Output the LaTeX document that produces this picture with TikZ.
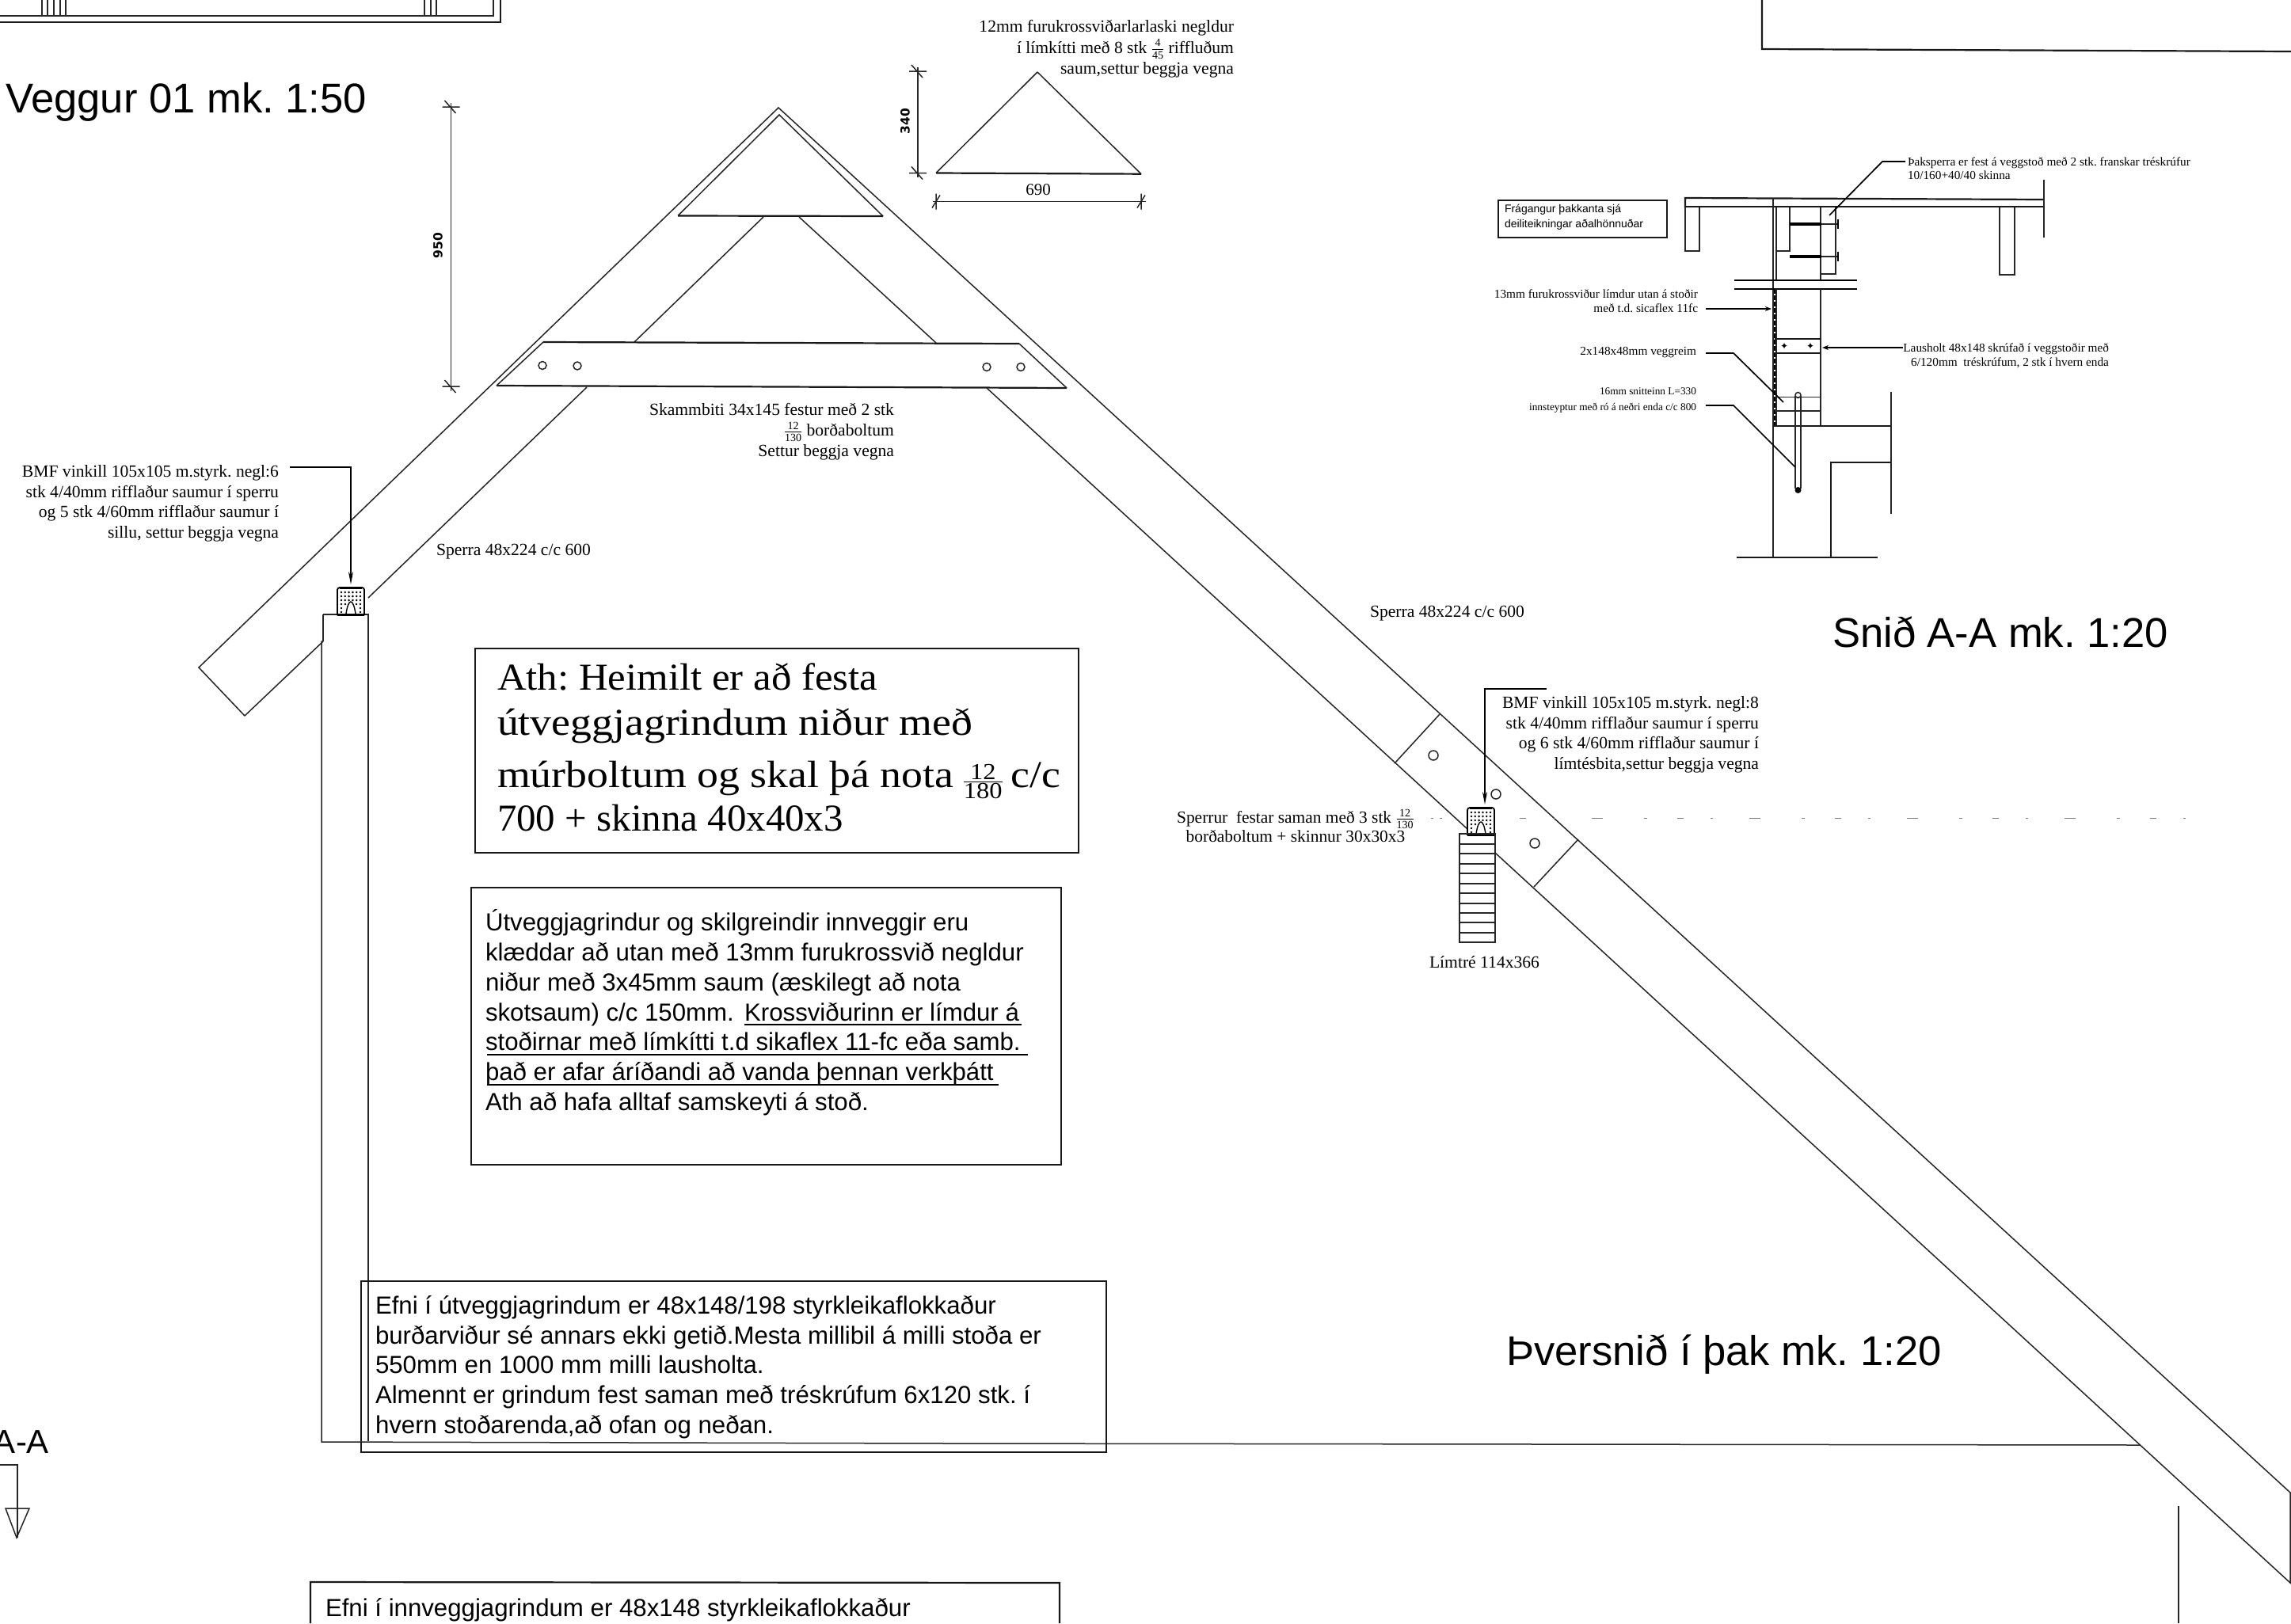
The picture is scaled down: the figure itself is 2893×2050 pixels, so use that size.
\documentclass[tikz,border=0pt]{standalone}
\usepackage{amsmath}
\usepackage{fontspec}
\setmainfont{Liberation Serif}
\setsansfont{Liberation Sans}
\newfontfamily\palat[FakeStretch=1.12]{Liberation Serif}
\newfontfamily\palatA[FakeStretch=1.06]{Liberation Serif}
\newfontfamily\palatB[FakeStretch=1.02]{Liberation Serif}
\newfontfamily\dejav{DejaVu Sans}
\usetikzlibrary{arrows.meta}
\newcommand{\fsz}[2]{\fontsize{#1}{#2}\selectfont\frenchspacing\lineskiplimit=-100pt\lineskip=0pt}
\newcommand{\ft}{\rule{0pt}{1em}}
\newcommand{\vfr}[4]{\ensuremath{\genfrac{}{}{#2}{}{\mbox{\fontsize{#1}{#1}\selectfont #3}}{\mbox{\fontsize{#1}{#1}\selectfont #4}}}}
\newcommand{\vtick}[2]{\draw[thin line] (#1-11,#2)--(#1+11,#2) (#1-8,#2-8)--(#1+6,#2+8);}
\newcommand{\htick}[2]{\draw[thin line] (#1,#2-10)--(#1,#2+10) (#1-5,#2+8)--(#1+5,#2-8);}
\newcommand{\bmficon}[2]{%
\begin{scope}[shift={(#1,#2)}]
\draw[line width=1.8pt,rounded corners=3pt] (0,35)--(0,0)--(34,0)--(34,35);
\draw[line width=3pt] (0,34)--(34,34);
\draw[line width=2.4pt] (3,1)--(31,1);
\foreach \px in {5,9.8,14.6,19.4,24.2,29}{\foreach \py in {6,11,16}{\fill (\px,\py) circle[radius=1.4];}}
\foreach \px/\py in {5/21,10/21,24/21,29/21,5/26,29/26,5/31,29/31}{\fill (\px,\py) circle[radius=1.4];}
\draw[line width=1.4pt] (11,33) .. controls (14,13) and (20,13) .. (23,33);
\end{scope}}
\tikzset{
 x=1pt,y=-1pt,
 thin line/.style={line width=1.5pt,black!85},
 box line/.style={line width=2.2pt,black!90},
 lead/.style={line width=1.7pt,black},
 leadarrow/.style={line width=1.7pt,black,-{Stealth[length=16pt,width=6pt]}},
 txt/.style={inner sep=0pt,outer sep=0pt,text=black},
 times/.style={txt,font=\fsz{21.6}{25.5}},
 arial/.style={txt,font=\sffamily\fsz{31.2}{37.8}},
 title/.style={txt,font=\sffamily\fsz{52.6}{60}},
 smalltimes/.style={txt,font=\fsz{15.3}{18}},
}
\begin{document}
\begin{tikzpicture}
\useasboundingbox (0,0) rectangle (2893,2050);
\fill[white] (0,0) rectangle (2893,2050);

% fragments of neighbouring drawings
\draw[thin line] (0,20)--(623,20)--(623,0);
\draw[box line] (0,28)--(632,28)--(632,0);
\foreach \vx in {53,60,68,76,83,536,544,551}{\draw[thin line] (\vx,0)--(\vx,20);}
\draw[box line] (2225,0)--(2225,62)--(2893,65);

% titles
\node[title,anchor=base west] (t1) at (7,142) {Veggur 01 mk. 1:50};
\node[title,anchor=base west] (t2) at (2314,817) {Snið A-A mk. 1:20};
\node[title,anchor=base west] (t3) at (1902,1724) {Þversnið í þak mk. 1:20};

% main truss
\draw[thin line] (309,904)--(251,843)--(983,136)--(2892,1885)--(2892,1999)--(1888,1077);
\draw[thin line] (309,904)--(408,810);
\draw[thin line] (465,755)--(741,489);
\draw[thin line] (1246,490)--(1853,1047);
\draw[thin line] (856,272.5)--(984,145)--(1115,273);
\draw[box line] (856,272.5)--(1115,273);
\draw[thin line] (964,274)--(801,432);
\draw[thin line] (1009,274)--(1182,433);
\draw[box line] (686,432)--(1287,434);
\draw[box line] (627,487)--(1347,490);
\draw[thin line] (686,432)--(627,487);
\draw[thin line] (1287,434)--(1347,490);
\foreach \hx/\hy in {685/461.5,729/462,1246/463.5,1289/463.5}{\draw[thin line] (\hx,\hy) circle[radius=5];}
\draw[thin line] (1818,902)--(1761,964);
\draw[thin line] (1993,1060)--(1937,1120);
\foreach \hx/\hy in {1810/954,1889/1003,1938/1065}{\draw[thin line] (\hx,\hy) circle[radius=6];}

% wall
\draw[thin line] (408,810)--(406,810)--(406,1821)--(1200,1823)--(2703,1825);
\draw[thin line] (408,776)--(465,776)--(465,1820);
\draw[thin line] (408,776)--(408,810);
\draw[thin line] (2751,1902)--(2751,2050);

% dimension 950
\draw[thin line] (569.5,130)--(569.5,494);
\vtick{569.5}{135}
\vtick{569.5}{488}
\node[txt,font=\dejav\bfseries\fsz{15.5}{18},rotate=90] (d950) at (553,310) {950};

% gusset plate with dimensions
\draw[thin line] (1310,91)--(1182,218.5);
\draw[thin line] (1310,91)--(1441,219.7);
\draw[box line] (1182,218.5)--(1441,219.7);
\draw[thin line] (1159,85)--(1159,224);
\vtick{1159}{90}
\vtick{1159}{218.5}
\node[txt,font=\dejav\bfseries\fsz{15.5}{18},rotate=90] (d340) at (1143,153) {340};
\draw[thin line] (1178,254.5)--(1447,254.5);
\htick{1182}{254.5}
\htick{1441}{254.5}
\node[times,font=\fsz{21}{24}] (d690) at (1311,240) {690};

% plate and beam labels
\node[times,align=right,anchor=north east,font=\fsz{21.6}{26.5}] (lab12) at (1558,19)
 {\ft 12mm furukrossviðarlarlaski negldur\\ í límkítti með 8 stk \vfr{14}{0.7pt}{4}{45} riffluðum\\ saum,settur beggja vegna};
\node[times,align=right,anchor=north east,font=\fsz{21.6}{26}] (labsk) at (1129,503)
 {\ft Skammbiti 34x145 festur með 2 stk\\ \vfr{14}{0.7pt}{12}{130} borðaboltum\\ Settur beggja vegna};
\node[times,align=right,anchor=north east] (labbmf1) at (352,581)
 {\ft BMF vinkill 105x105 m.styrk. negl:6\\ stk 4/40mm rifflaður saumur í sperru\\ og 5 stk 4/60mm rifflaður saumur í\\ sillu, settur beggja vegna};
\node[times,anchor=base west] (labsp1) at (551,701) {Sperra 48x224 c/c 600};
\node[times,anchor=base west] (labsp2) at (1730,779) {Sperra 48x224 c/c 600};
\node[times,align=right,anchor=north east] (labbmf2) at (2221,873)
 {\ft BMF vinkill 105x105 m.styrk. negl:8\\ stk 4/40mm rifflaður saumur í sperru\\ og 6 stk 4/60mm rifflaður saumur í\\ límtésbita,settur beggja vegna};
\node[times,align=center,anchor=north,font=\fsz{21.4}{24}] (labspr) at (1636,1018)
 {\ft Sperrur\ \ festar saman með 3 stk \vfr{14}{0.7pt}{12}{130}\\ borðaboltum + skinnur 30x30x3};
\node[times,anchor=base west] (lablim) at (1805,1222) {Límtré 114x366};

% connector brackets
\bmficon{426}{742}
\bmficon{1853}{1020}
\coordinate (a1) at (366,590); \coordinate (a2) at (443,590); \coordinate (a3) at (443,738);
\draw[leadarrow] (a1)--(a2)--(a3);
\coordinate (b1) at (1953,870); \coordinate (b2) at (1875,870); \coordinate (b3) at (1875,1016);
\draw[leadarrow] (b1)--(b2)--(b3);

% column
\draw[thin line] (1843,1053) rectangle (1888,1190);
\foreach \ly in {1066,1078,1091,1103,1116,1128,1141,1153,1165,1178}{\draw[thin line] (1843,\ly)--(1888,\ly);}
\draw[line width=0.8pt,black!50,dash pattern=on 8pt off 34pt on 3pt off 46pt on 14pt off 52pt on 4pt off 38pt] (1919,1033)--(2767,1033);
\draw[line width=0.8pt,black!50,dash pattern=on 3pt off 8pt] (1807,1033)--(1822,1033);

% text boxes
\draw[box line] (600,819) rectangle (1362,1077);
\node[txt,align=left,anchor=north west,font=\fsz{48}{57}] (ath) at (628,823)
 {\palatA\ft Ath: Heimilt er að festa\\ \palat útveggjagrindum niður með\\[9pt] \palat múrboltum og skal þá nota\kern-2pt\ \vfr{29}{1pt}{12}{180}\kern-4pt\ c/c\\[-2pt] \palatB 700 + skinna 40x40x3};
\draw[box line] (595,1121) rectangle (1340,1471);
\node[arial,align=left,anchor=north west] (bx2) at (613,1144.5)
 {\ft Útveggjagrindur og skilgreindir innveggir eru\\ klæddar að utan með 13mm furukrossvið negldur\\ niður með 3x45mm saum (æskilegt að nota\\ skotsaum) c/c 150mm.\ \kern-4pt\ Krossviðurinn er límdur á\\ stoðirnar með límkítti t.d sikaflex 11-fc eða samb.\\ það er afar áríðandi að vanda þennan verkþátt\\ Ath að hafa alltaf samskeyti á stoð.};
\draw[lead] (940,1294)--(1290,1294);
\draw[lead] (615,1332)--(1298,1332);
\draw[lead] (615,1370)--(1261,1370);
\draw[box line] (456,1618) rectangle (1397,1834);
\node[arial,align=left,anchor=north west] (bx3) at (474,1628)
 {\ft Efni í útveggjagrindum er 48x148/198 styrkleikaflokkaður\\ burðarviður sé annars ekki getið.Mesta millibil á milli stoða er\\ 550mm en 1000 mm milli lausholta.\\ Almennt er grindum fest saman með tréskrúfum 6x120 stk. í\\ hvern stoðarenda,að ofan og neðan.};
\draw[box line] (392,2050)--(392,1998)--(1338,1999)--(1338,2050);
\node[arial,anchor=base west] (bx4) at (411,2041) {Efni í innveggjagrindum er 48x148 styrkleikaflokkaður};

% section arrow A-A
\node[txt,font=\sffamily\fsz{42}{46},anchor=base east] (aa) at (62,1835) {A-A};
\draw[thin line] (0,1850)--(22,1850)--(22,1942);
\draw[thin line] (7,1905)--(37,1905)--(21,1942)--cycle;

% section A-A detail
\draw[box line] (1892,253) rectangle (2105,300);
\node[txt,align=left,anchor=north west,font=\sffamily\fsz{14}{19}] (fr) at (1900,254)
 {\ft Frágangur þakkanta sjá\\ deiliteikningar aðalhönnuðar};
\draw[box line] (2128,262)--(2128,250)--(2581,252);
\draw[box line] (2128,261)--(2581,261);
\draw[thin line] (2581,227)--(2581,300);
\draw[thin line] (2128,262)--(2128,317)--(2146,317)--(2146,262);
\draw[thin line] (2243,262)--(2243,317)--(2260,317)--(2260,262);
\draw[thin line] (2525,262)--(2525,347)--(2544,347)--(2544,262);
\draw[thin line] (2299,262)--(2299,346)--(2318,346)--(2318,262);
\draw[thin line] (2239,250)--(2239,704);
\draw[thin line] (2243,262)--(2243,354);
\draw[thin line] (2299,346)--(2299,354);
\draw[line width=1.5pt] (2190,354)--(2345,354) (2190,365)--(2345,365);
\draw[line width=4.5pt] (2260,283)--(2300,283) (2260,324)--(2300,324);
\draw[thin line] (2300,283)--(2321,283) (2300,324)--(2321,324);
\draw[line width=2.2pt] (2321,277)--(2321,289) (2321,318)--(2321,330);
\draw[thin line] (2299,365)--(2299,538);
\draw[line width=3pt,dash pattern=on 6pt off 2pt] (2241,365)--(2241,538);
\draw[thin line] (2243,365)--(2243,538);
\draw[box line] (2241,428)--(2299,428);
\draw[box line] (2241,446)--(2299,446);
\node[txt,font=\dejav\fsz{12}{12}] (p1) at (2253,437) {✦};
\node[txt,font=\dejav\fsz{12}{12}] (p2) at (2286,437) {✦};
\draw[thin line] (2241,501.5)--(2299,501.5);
\draw[thin line] (2241,519)--(2299,519);
\draw[box line] (2239,538)--(2388,538);
\draw[thin line] (2388,495)--(2388,649);
\draw[box line] (2312,704)--(2312,584)--(2388,584);
\draw[box line] (2193,704)--(2371,704);
\draw[thin line] (2267,500)--(2267,617) (2274,500)--(2274,617);
\draw[thin line] (2270.5,499) circle[radius=3.5];
\fill (2270.5,619) circle[radius=4];

\node[smalltimes,align=left,anchor=north west,font=\fsz{15.3}{17}] (thak) at (2409,193.7)
 {\ft Þaksperra er fest á veggstoð með 2 stk. franskar tréskrúfur\\ 10/160+40/40 skinna};
\coordinate (c1) at (2406,204); \coordinate (c2) at (2377,204); \coordinate (c3) at (2310,272);
\draw[lead] (c1)--(c2)--(c3);
\node[smalltimes,align=right,anchor=north east] (ply) at (2144,360.7)
 {\ft 13mm furukrossviður límdur utan á stoðir\\ með t.d. sicaflex 11fc};
\coordinate (e1) at (2154,390); \coordinate (e2) at (2237,390);
\draw[lead,-{Stealth[length=8pt,width=6pt]}] (e1)--(e2);
\node[txt,font=\fsz{15.3}{18},anchor=base east] (rim) at (2142,448) {2x148x48mm veggreim};
\coordinate (f1) at (2154,446); \coordinate (f2) at (2189,446); \coordinate (f3) at (2252,508);
\draw[lead] (f1)--(f2)--(f3);
\node[txt,align=right,anchor=north east,font=\fsz{13.3}{20}] (sn) at (2142,485)
 {\ft 16mm snitteinn L=330\\ innsteyptur með ró á neðri enda c/c 800};
\coordinate (g1) at (2154,512); \coordinate (g2) at (2189,512); \coordinate (g3) at (2267,590);
\draw[lead] (g1)--(g2)--(g3);
\node[smalltimes,align=right,anchor=north east] (laus) at (2663,428.7)
 {\ft Lausholt 48x148 skrúfað í veggstoðir með\\ 6/120mm\ \ tréskrúfum, 2 stk í hvern enda};
\coordinate (h1) at (2403,439); \coordinate (h2) at (2301,439);
\draw[lead,-{Stealth[length=8pt,width=6pt]}] (h1)--(h2);
\end{tikzpicture}
\end{document}
